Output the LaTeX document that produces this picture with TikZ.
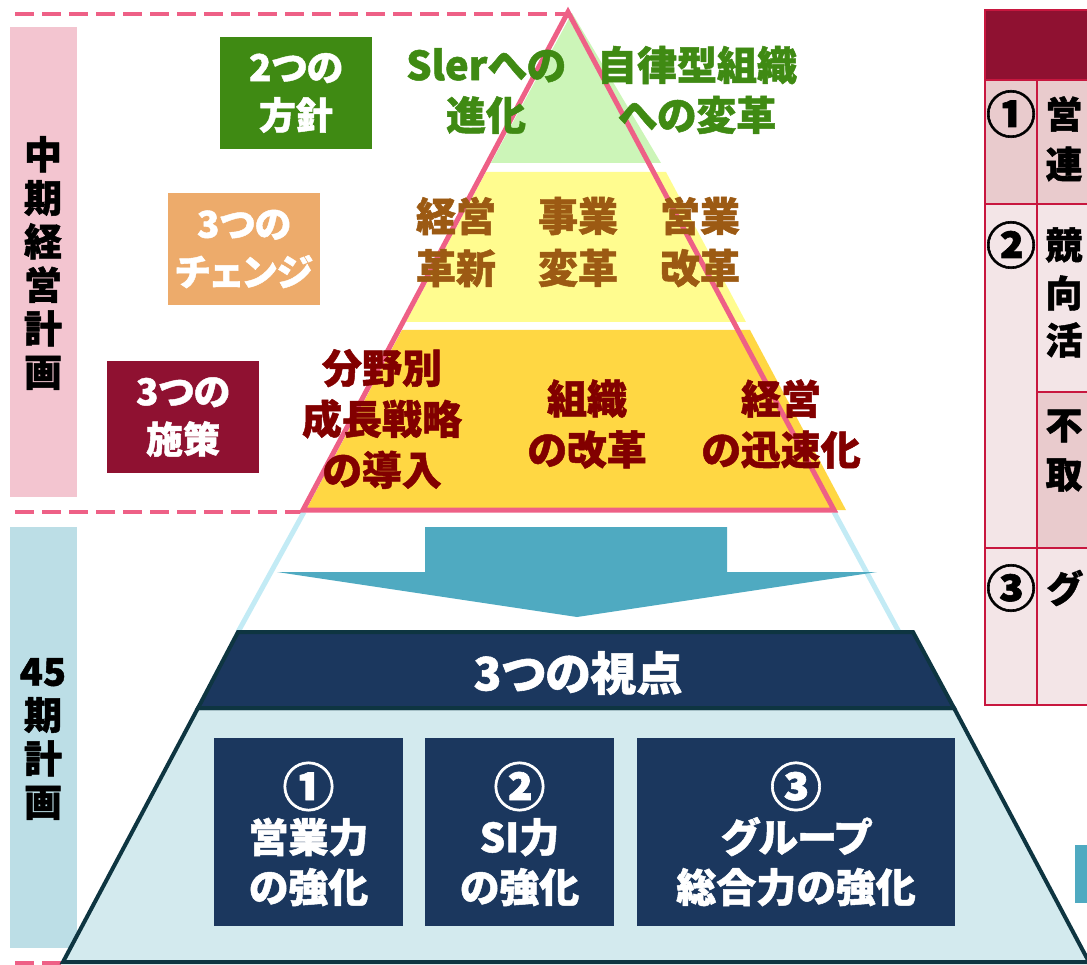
\documentclass[tikz,border=0pt]{standalone}
\usepackage{fontspec}
\setmainfont{Noto Sans CJK JP}[RawFeature={+palt}, BoldFeatures={FakeBold=1.2}]
\newcommand{\circd}[1]{\raisebox{-4pt}{\fontsize{52}{50}\selectfont #1}}
\definecolor{pinkline}{HTML}{EE6086}
\definecolor{pinkband}{HTML}{F3C5D0}
\definecolor{blueband}{HTML}{BCDEE6}
\definecolor{greenfill}{HTML}{CCF5B8}
\definecolor{yellowfill}{HTML}{FFFC8F}
\definecolor{orangefill}{HTML}{FFD743}
\definecolor{greentext}{HTML}{3F8A13}
\definecolor{browntext}{HTML}{9C5A13}
\definecolor{redtext}{HTML}{820000}
\definecolor{redbox}{HTML}{8F1131}
\definecolor{orangebox}{HTML}{EDAB6B}
\definecolor{lbline}{HTML}{C3EBF5}
\definecolor{arrowc}{HTML}{4FAAC1}
\definecolor{navy}{HTML}{1B375E}
\definecolor{darkedge}{HTML}{0E3541}
\definecolor{lightblue}{HTML}{D3EAEE}
\definecolor{tborder}{HTML}{C8173F}
\definecolor{tpink}{HTML}{E9CBCD}
\definecolor{tlight}{HTML}{F3E5E7}
\tikzset{
  jtxt/.style={inner sep=0pt, align=center, font=\bfseries\fontsize{40}{52}\selectfont},
  gtxt/.style={jtxt, text=greentext, font=\bfseries\fontsize{40}{50}\selectfont},
  btxt/.style={jtxt, text=browntext, font=\bfseries\fontsize{40}{52}\selectfont},
  rtxt/.style={jtxt, text=redtext, font=\bfseries\fontsize{40}{51}\selectfont},
  lblbox/.style={inner sep=0pt, align=center, text=white, minimum width=152pt, minimum height=112pt, font=\bfseries\fontsize{37}{48}\selectfont},
  boxtxt/.style={jtxt, text=white, font=\bfseries\fontsize{40}{50}\selectfont},
  vtxt/.style={inner sep=0pt, align=center, text=black, font=\bfseries\fontsize{38}{43.5}\selectfont},
  ttxt/.style={inner sep=0pt, text=black, font=\bfseries\fontsize{37}{40}\selectfont},
  tnum/.style={inner sep=0pt, text=black, font=\bfseries\fontsize{50}{50}\selectfont},
  pinkdash/.style={pinkline, line width=4.5pt, dash pattern=on 19pt off 8pt},
}
\begin{document}
\begin{tikzpicture}[x=1pt,y=-1pt]
\useasboundingbox (0,0) rectangle (1087,965);
% left bands
\fill[pinkband] (10,27) rectangle (77,497);
\fill[blueband] (10,527) rectangle (77,948);
\node[vtxt] (v1) at (43,263) {中\\期\\経\\営\\計\\画};
\node[vtxt] (v2) at (43,739) {45\\期\\計\\画};
% dashed lines
\draw[pinkdash] (15,14) -- (566,14);
\draw[pinkdash] (15,512) -- (303,512);
\draw[pinkdash] (15,963) -- (63,963);
% light blue pyramid edges
\draw[lbline, line width=5pt] (304,512) -- (238,632);
\draw[lbline, line width=5pt] (834,512) -- (899,632);
% tier fills
\fill[greenfill] (572,13) -- (491,163) -- (661,163) -- cycle;
\fill[yellowfill] (486,172) -- (666,172) -- (746,322) -- (406,322) -- cycle;
\fill[orangefill] (402,330) -- (750,330) -- (846,510) -- (306,510) -- cycle;
% pink outline
\draw[pinkline, line width=5pt] (568,12) -- (303,510) -- (834,510) -- cycle;
% label boxes
\node[lblbox, fill=greentext] (b1) at (296,93) {2つの\\方針};
\node[lblbox, fill=orangebox] (b2) at (244,249) {3つの\\チェンジ};
\node[lblbox, fill=redbox] (b3) at (183,417) {3つの\\施策};
% tier texts
\node[gtxt] (g1) at (486,91) {Slerへの\\進化};
\node[gtxt] (g2) at (697,90) {自律型組織\\への変革};
\node[btxt] (c1) at (456,242) {経営\\革新};
\node[btxt] (c2) at (578,242) {事業\\変革};
\node[btxt] (c3) at (700,242) {営業\\改革};
\node[rtxt] (s1) at (382,419) {分野別\\成長戦略\\の導入};
\node[rtxt] (s2) at (587,424) {組織\\の改革};
\node[rtxt] (s3) at (781,424) {経営\\の迅速化};
% arrow
\fill[arrowc] (425,527) -- (727,527) -- (727,572) -- (877,572) -- (577,617) -- (277,572) -- (425,572) -- cycle;
% lower pyramid
\filldraw[fill=lightblue, draw=darkedge, line width=4pt] (198,708) -- (954,708) -- (1089,962) -- (63,962) -- cycle;
\filldraw[fill=navy, draw=darkedge, line width=4pt] (238,632) -- (913,632) -- (954,708) -- (198,708) -- cycle;
\node[jtxt, text=white, font=\bfseries\fontsize{46}{50}\selectfont] (title) at (578,673) {3つの視点};
% three boxes
\fill[navy] (214,738) rectangle (403,926);
\fill[navy] (425,738) rectangle (614,926);
\fill[navy] (637,738) rectangle (955,926);
\node[boxtxt] (p1) at (308.5,834) {\circd{①}\\営業力\\の強化};
\node[boxtxt] (p2) at (519.5,834) {\circd{②}\\SI力\\の強化};
\node[boxtxt] (p3) at (796,834) {\circd{③}\\グループ\\総合力の強化};
% right table
\fill[redbox] (985,10) rectangle (1087,80);
\fill[tpink] (985,80) rectangle (1087,204);
\fill[tlight] (985,204) rectangle (1087,548);
\fill[tpink] (1037,392) rectangle (1087,548);
\fill[tlight] (985,548) rectangle (1087,705);
\draw[tborder, line width=2pt] (1087,10) -- (985,10) -- (985,705) -- (1087,705);
\draw[tborder, line width=2pt] (985,80) -- (1087,80);
\draw[tborder, line width=2pt] (985,204) -- (1087,204);
\draw[tborder, line width=2pt] (985,548) -- (1087,548);
\draw[tborder, line width=2pt] (1037,392) -- (1087,392);
\draw[tborder, line width=2pt] (1037,80) -- (1037,705);
\node[tnum] (n1) at (1011,114) {①};
\node[ttxt] (r1a) at (1064,114) {営};
\node[ttxt] (r1b) at (1064,164) {連};
\node[tnum] (n2) at (1011,245) {②};
\node[ttxt] (r2a) at (1064,245) {競};
\node[ttxt] (r2b) at (1064,293) {向};
\node[ttxt] (r2c) at (1064,340) {活};
\node[ttxt] (r2d) at (1064,426) {不};
\node[ttxt] (r2e) at (1064,475) {取};
\node[tnum] (n3) at (1011,588) {③};
\node[ttxt] (r3a) at (1064,588) {グ};
% small teal block
\fill[arrowc] (1075,845) rectangle (1087,903);
\end{tikzpicture}
\end{document}
